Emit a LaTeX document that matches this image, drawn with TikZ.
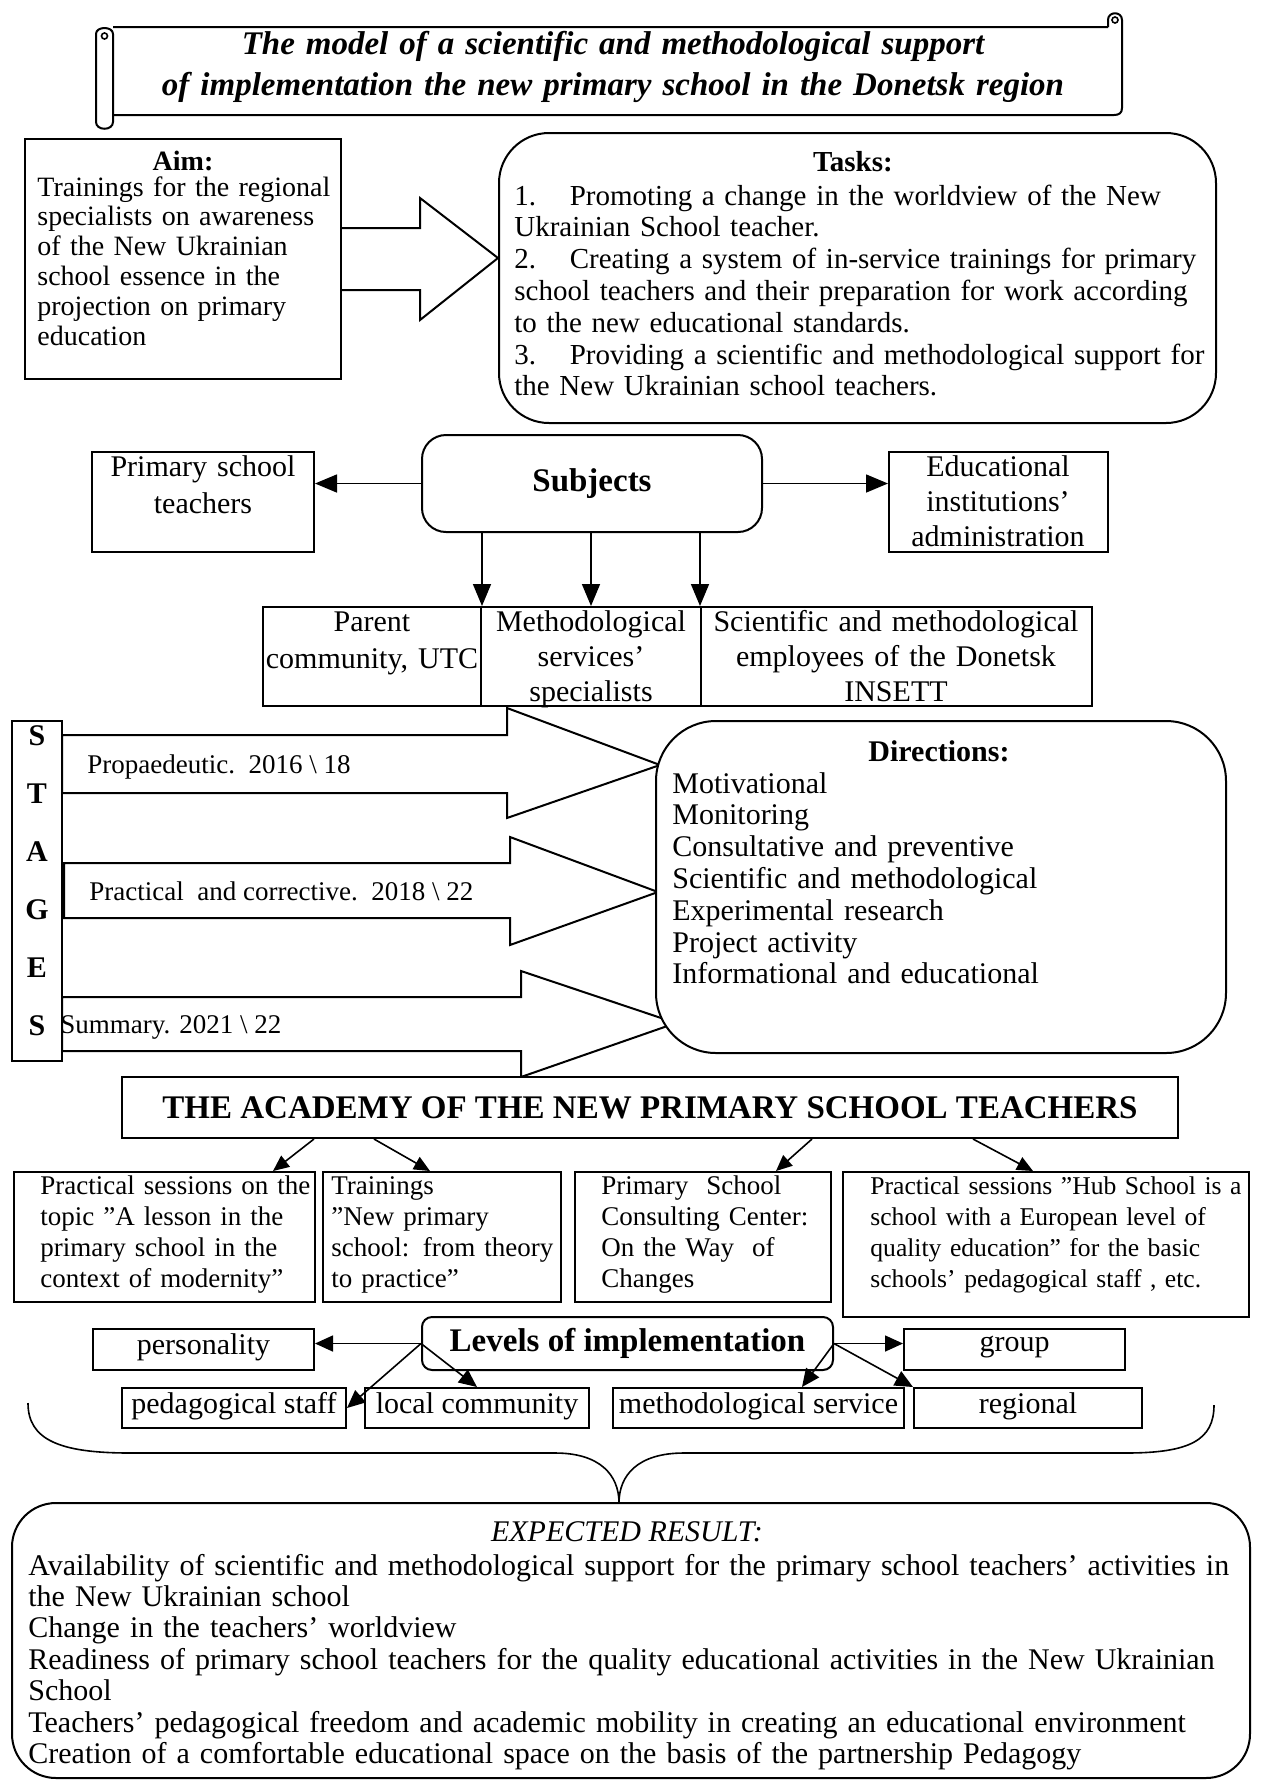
\documentclass[tikz,border=0pt]{standalone}
\usepackage{fontspec}
\setmainfont{Liberation Serif}
\usetikzlibrary{arrows.meta,fit,calc}
\newcommand{\jl}[1]{\makebox[\linewidth][s]{#1}}
\newcommand{\fsz}[2]{\fontsize{#1}{#2}\selectfont}
\begin{document}
\begin{tikzpicture}[x=0.5pt,y=-0.5pt,
  box/.style={draw, line width=1pt, inner sep=0pt},
  con/.style={line width=0.8pt, -{Triangle[length=11pt,width=9pt]}},
  acon/.style={line width=0.8pt, -{Triangle[length=8pt,width=7pt]}},
  lcon/.style={line width=0.8pt, -{Triangle[length=9pt,width=8pt]}},
  txt/.style={inner sep=0pt, anchor=base west, align=left},
  ctr/.style={inner sep=0pt, anchor=center},
  head/.style={inner sep=0pt, anchor=base, font=\bfseries\fsz{14.5}{17}},
  blk/.style={line width=1pt, line join=miter, fill=white}]
\useasboundingbox (0,0) rectangle (1261,1785);

% ---------- title scroll ----------
\draw[line width=1pt, line join=round]
  (113,27) -- (1108,27)
  (1108,27) -- (1108,20) .. controls (1108,11) and (1122,11) .. (1122,20)
  -- (1122,108) .. controls (1122,113) and (1119,115) .. (1114,115) -- (113,115);
\draw[line width=0.8pt] (1115,20) circle (3);
\draw[line width=1pt]
  (96,34) -- (96,122) .. controls (96,131) and (113,131) .. (113,122) -- (113,34)
  (96,34) .. controls (96,26) and (113,26) .. (113,34);
\draw[line width=0.8pt] (104.5,36) circle (3);
\node[inner sep=0pt, anchor=base, text width=500pt, align=center,
      font=\bfseries\itshape\fsz{16.5}{20.5}] (title) at (613,54)
  {The model of a scientific and methodological support\\
   of implementation the new primary school in the Donetsk region};

% ---------- aim / tasks ----------
\node[box, fit={(25,139) (341,379)}] (aim) {};
\node[head, font=\bfseries\fsz{14}{16}] (aimh) at (183,170) {Aim:};
\node[txt, text width=145pt, font=\fsz{14}{14.9}] (aimt) at (37,196)
  {\jl{Trainings for the regional}\\
   \jl{specialists on awareness}\\
   \jl{of the New Ukrainian}\\
   \jl{school essence in the}\\
   \jl{projection on primary}\\
   education};
\draw[line width=1pt, line join=miter]
  (341,228) -- (420,228) -- (420,198) -- (498,258) -- (420,320) -- (420,290) -- (341,290);
\node[box, rounded corners=25pt, fit={(499,133) (1216,423)}] (tasks) {};
\node[head] (tasksh) at (853,171) {Tasks:};
\node[txt, text width=340.5pt, font=\fsz{14.5}{15.9}] (taskst) at (514,205)
  {\jl{1.\hspace*{12pt} Promoting a change in the worldview of the New}\\
   Ukrainian School teacher.\\
   \jl{2.\hspace*{12pt} Creating a system of in-service trainings for primary}\\
   \jl{school teachers and their preparation for work according}\\
   to the new educational standards.\\
   \jl{3.\hspace*{12pt} Providing a scientific and methodological support for}\\
   the New Ukrainian school teachers.};

% ---------- subjects ----------
\node[box, rounded corners=12pt, fit={(422,435) (762,532)}] (subj) {};
\node[ctr, font=\bfseries\fsz{16.5}{19}] (subjt) at (subj.center) {Subjects};
\node[box, fit={(92,452) (314,552)}] (pst) {};
\node[inner sep=0pt, anchor=base, text width=105pt, align=center, font=\fsz{15}{18.5}] (pstt) at (203,476)
  {Primary school\\teachers};
\node[box, fit={(889,452) (1108,552)}] (edu) {};
\node[inner sep=0pt, anchor=base, text width=105pt, align=center, font=\fsz{15}{17.5}] (edut) at (998,476)
  {Educational\\institutions'\\administration};
\node[box, fit={(263,607) (481,706)}] (par) {};
\node[box, fit={(481,607) (701,706)}] (met) {};
\node[box, fit={(701,607) (1092,706)}] (sci) {};
\node[inner sep=0pt, anchor=base, text width=108pt, align=center, font=\fsz{15}{18.5}] (part) at (372,631)
  {Parent\\community, UTC};
\node[inner sep=0pt, anchor=base, text width=108pt, align=center, font=\fsz{15}{17.5}] (mett) at (591,631)
  {Methodological\\services'\\specialists};
\node[inner sep=0pt, anchor=base, text width=190pt, align=center, font=\fsz{15}{17.5}] (scit) at (896,631)
  {Scientific and methodological\\employees of the Donetsk\\INSETT};
\draw[con] (subj.west) -- (subj.west -| pst.east);
\draw[con] (subj.east) -- (subj.east -| edu.west);
\draw[con] (subj.south -| par.east) -- (par.north east);
\draw[con] (subj.south -| met.north) -- (met.north);
\draw[con] (subj.south -| sci.west) -- (sci.north west);

% ---------- stages ----------
\draw[blk] (62,735) -- (507,735) -- (507,708) -- (660,765) -- (507,818) -- (507,793) -- (62,793) -- cycle;
\draw[blk] (64,863) -- (510,863) -- (510,837) -- (658,892) -- (510,945) -- (510,918) -- (64,918) -- cycle;
\draw[blk] (62,997) -- (521,997) -- (521,971) -- (676,1023) -- (521,1077) -- (521,1051) -- (62,1051) -- cycle;
\node[box, fit={(12,721) (62,1061)}] (stg) {};
\node[inner sep=0pt, anchor=base, text width=30pt, align=center, font=\bfseries\fsz{15}{29}] (stgt) at (37,745)
  {S\\T\\A\\G\\E\\S};
\node[txt, font=\fsz{13.5}{16}] (st1) at (87,773) {Propaedeutic.\ \ 2016 \textbackslash\ 18};
\node[txt, font=\fsz{13.5}{16}] (st2) at (89,900) {Practical\ \ and corrective.\ \ 2018 \textbackslash\ 22};
\node[txt, font=\fsz{13.5}{16}] (st3) at (60,1033) {Summary. 2021 \textbackslash\ 22};

% ---------- directions ----------
\node[box, fill=white, rounded corners=30pt, fit={(656,721) (1226,1053)}] (dir) {};
\node[head, font=\bfseries\fsz{15}{17}] (dirh) at (939,761) {Directions:};
\node[txt, text width=270pt, font=\fsz{15}{15.9}] (dirt) at (672,793)
  {Motivational\\Monitoring\\Consultative and preventive\\Scientific and methodological\\Experimental research\\Project activity\\Informational and educational};

% ---------- academy ----------
\node[box, fill=white, fit={(122,1077) (1178,1138)}] (acad) {};
\node[ctr, font=\bfseries\fsz{16.5}{19}] (acadt) at (acad.center) {THE ACADEMY OF THE NEW PRIMARY SCHOOL TEACHERS};
\node[box, fit={(14,1172) (315,1302)}] (ba) {};
\node[box, fit={(323,1172) (561,1302)}] (bb) {};
\node[box, fit={(575,1172) (831,1302)}] (bc) {};
\node[box, fit={(843,1172) (1249,1317)}] (bd) {};
\node[txt, text width=136pt, font=\fsz{13.5}{15.5}] (bat) at (40,1194)
  {\jl{Practical sessions on the}\\
   \jl{topic ''A lesson in the}\\
   \jl{primary school in the}\\
   context of modernity''};
\node[txt, text width=107pt, font=\fsz{13.5}{15.5}] (bbt) at (331,1194)
  {Trainings\\
   \jl{''New primary}\\
   \jl{school: from theory}\\
   to practice''};
\node[txt, text width=112pt, font=\fsz{13.5}{15.5}] (bct) at (601,1194)
  {Primary\ \ School\\Consulting Center:\\On the Way\ \ of\\Changes};
\node[txt, text width=200pt, font=\fsz{12.8}{15.5}] (bdt) at (870,1194)
  {Practical sessions ''Hub School is a\\
   school with a European level of\\
   quality education'' for the basic\\
   schools' pedagogical staff , etc.};
\draw[acon] (acad.south -| 314,0) -- (ba.north -| 273,0);
\draw[acon] (acad.south -| 374,0) -- (bb.north -| 430,0);
\draw[acon] (acad.south -| 812,0) -- (bc.north -| 776,0);
\draw[acon] (acad.south -| 973,0) -- (bd.north -| 1033,0);

% ---------- levels ----------
\node[box, rounded corners=5pt, fit={(422,1317) (833,1370)}] (lev) {};
\node[ctr, font=\bfseries\fsz{16.5}{19}] (levt) at (lev.center) {Levels of implementation};
\node[box, fit={(93,1329) (314,1370)}] (pers) {};
\node[box, fit={(904,1329) (1125,1370)}] (grp) {};
\node[box, fit={(122,1388) (346,1428)}] (ped) {};
\node[box, fit={(365,1388) (589,1428)}] (loc) {};
\node[box, fit={(613,1388) (904,1428)}] (meth) {};
\node[box, fit={(914,1388) (1142,1428)}] (reg) {};
\begin{scope}[every node/.style={ctr, font=\fsz{15}{17}}]
\node (perst) at ([yshift=1pt]pers.center) {personality};
\node (grpt) at ([yshift=1pt]grp.center) {group};
\node (pedt) at ([yshift=1pt]ped.center) {pedagogical staff};
\node (loct) at ([yshift=1pt]loc.center) {local community};
\node (metht) at ([yshift=1pt]meth.center) {methodological service};
\node (regt) at ([yshift=1pt]reg.center) {regional};
\end{scope}
\draw[lcon] (lev.west) -- (lev.west -| pers.east);
\draw[lcon] (lev.east) -- (lev.east -| grp.west);
\draw[lcon] (lev.west) -- (ped.east);
\draw[lcon] (lev.west) -- (loc.north);
\draw[lcon] (lev.east) -- (meth.north -| 802,0);
\draw[lcon] (lev.east) -- (reg.north west);

% ---------- brace ----------
\draw[line width=0.8pt]
  (28,1403) .. controls (28,1440) and (60,1453) .. (130,1453) -- (555,1453)
  .. controls (600,1453) and (619,1475) .. (619,1503)
  .. controls (619,1475) and (638,1453) .. (684,1453) -- (1126,1453)
  .. controls (1190,1453) and (1214,1440) .. (1214,1405);

% ---------- expected result ----------
\node[box, rounded corners=22pt, fit={(12,1503) (1250,1778)}] (res) {};
\node[inner sep=0pt, anchor=base, font=\itshape\fsz{15}{17}] (resh) at (627,1541) {EXPECTED RESULT:};
\node[txt, text width=601pt, font=\fsz{15}{15.7}] (rest) at (28,1575)
  {\jl{Availability of scientific and methodological support for the primary school teachers' activities in}\\
   the New Ukrainian school\\
   Change in the teachers' worldview\\
   \jl{Readiness of primary school teachers for the quality educational activities in the New Ukrainian}\\
   School\\
   Teachers' pedagogical freedom and academic mobility in creating an educational environment\\
   Creation of a comfortable educational space on the basis of the partnership Pedagogy};
\end{tikzpicture}
\end{document}
